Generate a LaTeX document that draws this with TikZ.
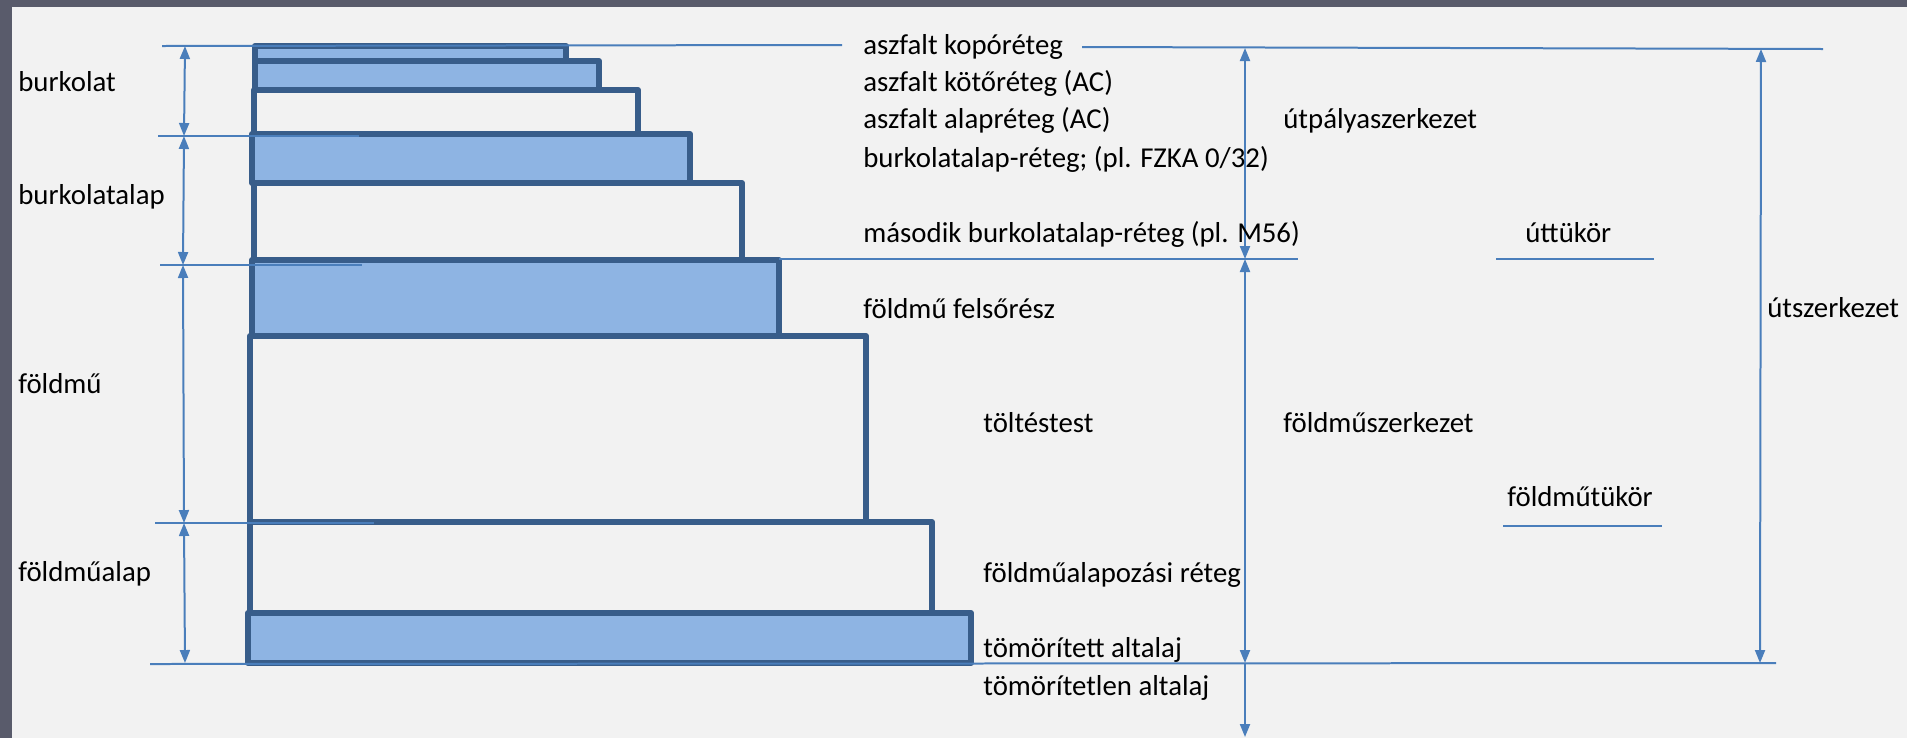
\documentclass[tikz,border=0pt]{standalone}
\usepackage{fontspec}
\setmainfont{Carlito}
\usetikzlibrary{arrows.meta}
\definecolor{bgGray}{HTML}{F2F2F2}
\definecolor{frameGray}{HTML}{595B6B}
\definecolor{layerEdge}{HTML}{385D8A}
\definecolor{layerFill}{HTML}{8EB4E3}
\definecolor{dimBlue}{HTML}{4A7EBB}
\tikzset{
  layer/.style={draw=layerEdge, line width=0.12cm, line join=round},
  dimline/.style={draw=dimBlue, line width=0.04cm},
  dimarrow/.style={dimline, {Triangle[length=0.26cm,width=0.2cm]}-{Triangle[length=0.26cm,width=0.2cm]}},
  downarrow/.style={dimline, -{Triangle[length=0.26cm,width=0.2cm]}},
  lbl/.style={anchor=base west, inner sep=0pt, font=\fontsize{16.4}{19}\selectfont}
}
\begin{document}
\begin{tikzpicture}[x=0.02cm, y=-0.02cm]
\useasboundingbox (0,0) rectangle (1907,738);
\fill[bgGray] (0,0) rectangle (1907,738);
\fill[frameGray] (0,0) rectangle (1907,7);
\fill[frameGray] (0,0) rectangle (12,738);
% layers
\filldraw[layer, fill=layerFill] (255,46) rectangle (566,61);
\filldraw[layer, fill=layerFill] (255,61) rectangle (599,90);
\draw[layer] (254,90) rectangle (638,134);
\filldraw[layer, fill=layerFill] (252,134) rectangle (690,183);
\draw[layer] (254,183) rectangle (742,260);
\filldraw[layer, fill=layerFill] (252,260) rectangle (779,336);
\draw[layer] (250,336) rectangle (866,522);
\draw[layer] (250,522) rectangle (932,613);
\filldraw[layer, fill=layerFill] (248,613) rectangle (971,663);
% level lines
\draw[dimline] (162,46) -- (842,45);
\draw[dimline] (1082,47) -- (1823,49);
\draw[dimline] (158,136) -- (359,136);
\draw[dimline] (160,265) -- (362,265);
\draw[dimline] (779,259) -- (1298,259);
\draw[dimline] (155,523) -- (374,523);
\draw[dimline] (150,664) -- (1776,663);
\draw[dimline] (1496,259) -- (1654,259);
\draw[dimline] (1503,526) -- (1662,526);
% dimension points
\coordinate (bk0) at (185,46);
\coordinate (bk1) at (184,136);
\coordinate (bk2) at (183,265);
\coordinate (bk3) at (184,523);
\coordinate (bk4) at (185,663);
\coordinate (mid0) at (1245,48);
\coordinate (mid1) at (1245,259);
\coordinate (mid2) at (1245,663);
\coordinate (mid3) at (1245,737);
\coordinate (rgt0) at (1761,49);
\coordinate (rgt1) at (1760,663);
\draw[dimarrow] (bk0) -- (bk1);
\draw[dimarrow] (bk1) -- (bk2);
\draw[dimarrow] (bk2) -- (bk3);
\draw[dimarrow] (bk3) -- (bk4);
\draw[dimarrow] (mid0) -- (mid1);
\draw[dimarrow] (mid1) -- (mid2);
\draw[downarrow] (mid2) -- (mid3);
\draw[dimarrow] (rgt0) -- (rgt1);
% labels
\node[lbl] (burkolat) at (18,91) {burkolat};
\node[lbl] (burkalap) at (18,204) {burkolatalap};
\node[lbl] (foldmu) at (18,393) {földmű};
\node[lbl] (foldmualap) at (18,581) {földműalap};
\node[lbl] (kopo) at (863,54) {aszfalt kopóréteg};
\node[lbl] (koto) at (863,91) {aszfalt kötőréteg (AC)};
\node[lbl] (alapr) at (863,128) {aszfalt alapréteg (AC)};
\node[lbl] (fzka) at (863,167) {burkolatalap-réteg; (pl. FZKA 0/32)};
\node[lbl] (masodik) at (863,242) {második burkolatalap-réteg (pl. M56)};
\node[lbl] (felso) at (863,318) {földmű felsőrész};
\node[lbl] (toltes) at (983,432) {töltéstest};
\node[lbl] (fmalapozasi) at (983,582) {földműalapozási réteg};
\node[lbl] (tomor) at (983,657) {tömörített altalaj};
\node[lbl] (tomoretlen) at (983,695) {tömörítetlen altalaj};
\node[lbl] (utpalya) at (1283,128) {útpályaszerkezet};
\node[lbl] (fmszerk) at (1283,432) {földműszerkezet};
\node[lbl] (uttukor) at (1525,242) {úttükör};
\node[lbl] (fmtukor) at (1507,506) {földműtükör};
\node[lbl] (utszerk) at (1767,317) {útszerkezet};
\end{tikzpicture}
\end{document}
